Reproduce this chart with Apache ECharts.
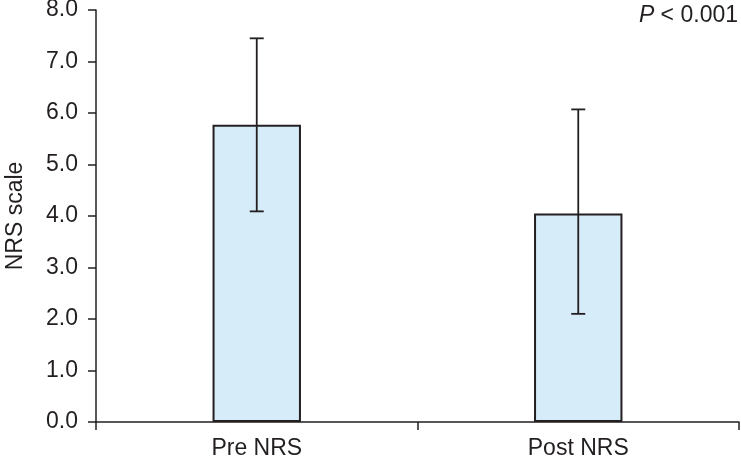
<!DOCTYPE html>
<html><head><meta charset="utf-8">
<script src="https://cdn.jsdelivr.net/npm/echarts@6/dist/echarts.min.js"></script>
<style>html,body{margin:0;padding:0;background:#fff}#c{width:741px;height:458px}</style>
</head><body><div id="c"></div>
<script>
var categories = ['Pre NRS', 'Post NRS'];
var means = [5.77, 4.05];
var errLow = [4.09, 2.10];
var errHigh = [7.45, 6.07];
var yTicks = [0, 1, 2, 3, 4, 5, 6, 7, 8];

var chart = echarts.init(document.getElementById('c'));
var ink = '#231f20';
var font = 'Liberation Sans, Arial, sans-serif';
var fs = 23;
chart.setOption({
  animation: false,
  grid: {left: 96, right: 2, top: 10, bottom: 36, outerBoundsMode: 'none', containLabel: false},
  xAxis: {
    type: 'category', data: categories,
    axisLine: {lineStyle: {color: ink, width: 1.5}},
    axisTick: {show: true, length: 8, lineStyle: {color: ink, width: 1.5}},
    axisLabel: {color: ink, fontSize: fs, fontFamily: font, margin: 15}
  },
  yAxis: {
    type: 'value', min: 0, max: 8, interval: 1,
    name: 'NRS scale', nameLocation: 'middle', nameGap: 69,
    nameTextStyle: {color: ink, fontSize: fs, fontFamily: font},
    axisLine: {show: true, lineStyle: {color: ink, width: 1.5}},
    axisTick: {show: true, length: 8, lineStyle: {color: ink, width: 1.5}},
    axisLabel: {color: ink, fontSize: fs, fontFamily: font, margin: 18,
      formatter: function (v) { return v.toFixed(1); }},
    splitLine: {show: false}
  },
  graphic: [{
    type: 'text', right: 3, top: 4,
    style: {rich: {i: {fontStyle: 'italic', fontSize: fs, fontFamily: font, fill: ink}, n: {fontSize: fs, fontFamily: font, fill: ink}},
      text: '{i|P}{n| < 0.001}', fill: ink}
  }],
  series: [{
    type: 'bar', data: means, barWidth: '27.5%',
    itemStyle: {color: '#d6ecf9', borderColor: ink, borderWidth: 2}
  }, {
    type: 'custom',
    data: categories.map(function (c, i) { return [i, errLow[i], errHigh[i]]; }),
    renderItem: function (params, api) {
      var lo = api.coord([api.value(0), api.value(1)]);
      var hi = api.coord([api.value(0), api.value(2)]);
      var hw = 7;
      var st = {stroke: ink, lineWidth: 1.8};
      return {type: 'group', children: [
        {type: 'line', shape: {x1: hi[0], y1: hi[1], x2: lo[0], y2: lo[1]}, style: st},
        {type: 'line', shape: {x1: hi[0] - hw, y1: hi[1], x2: hi[0] + hw, y2: hi[1]}, style: st},
        {type: 'line', shape: {x1: lo[0] - hw, y1: lo[1], x2: lo[0] + hw, y2: lo[1]}, style: st}
      ]};
    },
    z: 10
  }]
});
</script></body></html>
